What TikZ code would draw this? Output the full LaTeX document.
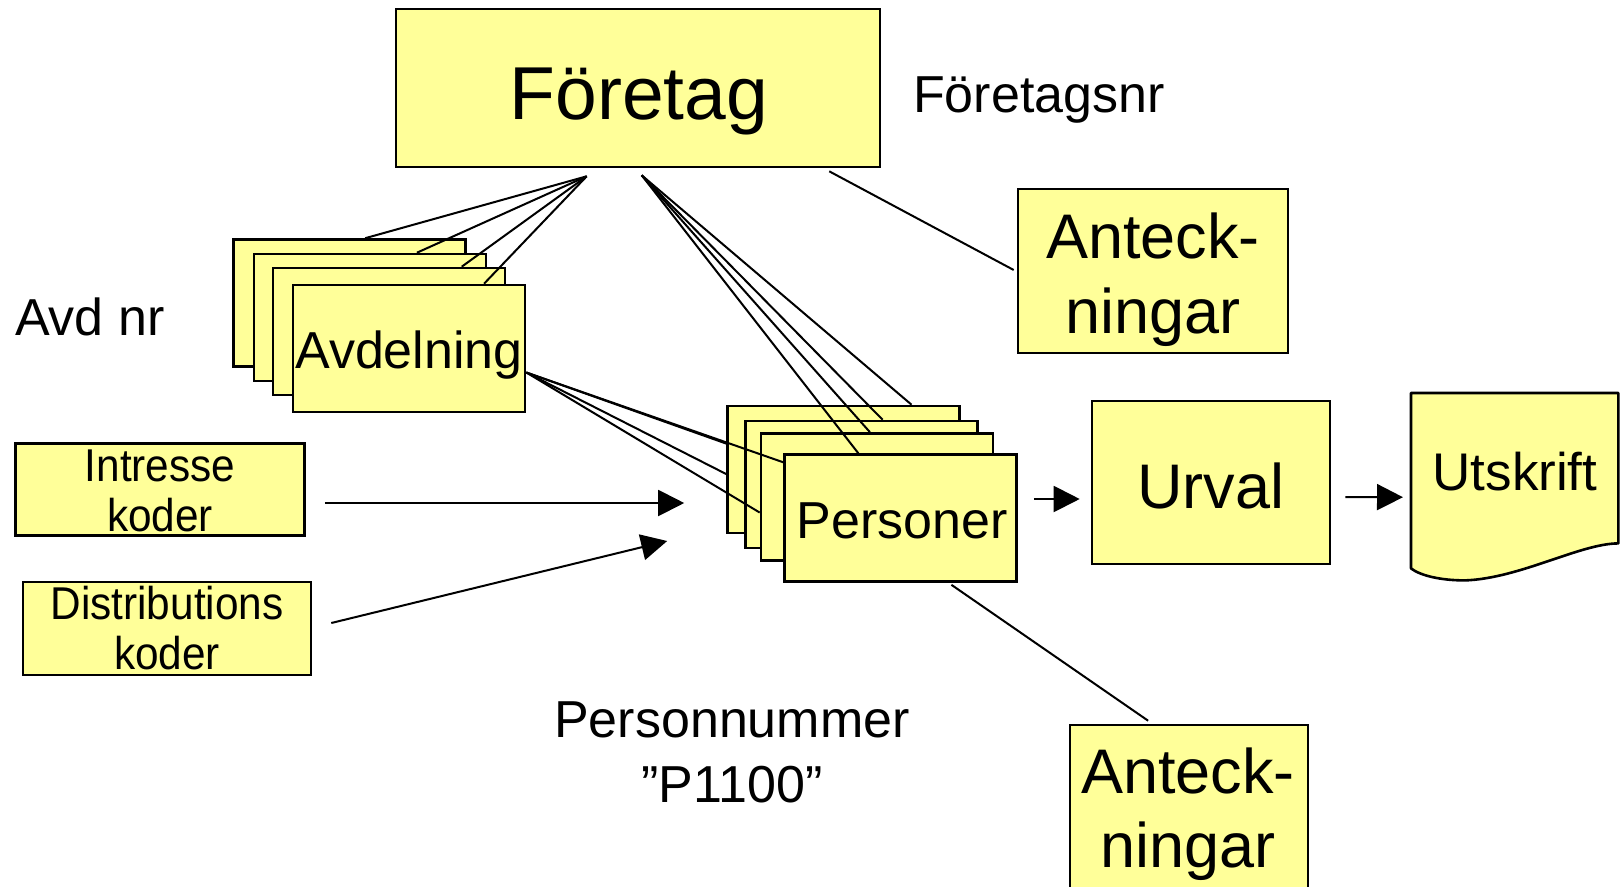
\documentclass[tikz,border=0pt]{standalone}
\usepackage{fontspec}
\setmainfont{Liberation Sans}
\newfontfamily\narrowfont[FakeStretch=0.92]{Liberation Sans}
\usetikzlibrary{calc,arrows.meta}
\definecolor{yel}{HTML}{FFFF99}
\newcommand\myfs[1]{\fontsize{#1}{#1}\selectfont}
\begin{document}
\begin{tikzpicture}[x=1pt,y=-1pt,
 box/.style={draw=black, line width=2.6pt, fill=yel, rectangle, inner sep=0pt},
 card/.style={box, minimum width=232pt, minimum height=127pt},
 link/.style={line width=2pt},
 arr/.style={line width=2pt, -{Triangle[length=26pt,width=26pt]}},
 txt/.style={anchor=base, inner sep=0pt},
 small/.style={txt, font=\narrowfont\myfs{46}},
]
\useasboundingbox (0,0) rectangle (1621,886);

% main boxes
\node[box, minimum width=484pt, minimum height=158pt] (foretag) at (638,88) {};
\node[box, minimum width=270pt, minimum height=164pt] (antA) at (1153,271) {};
\node[box, minimum width=238pt, minimum height=163pt] (urval) at (1211,482.5) {};
\node[box, minimum width=289pt, minimum height=92pt] (intresse) at (160,489.5) {};
\node[box, minimum width=288pt, minimum height=93pt] (distrib) at (167,628.5) {};
\node[box, minimum width=238pt, minimum height=180pt] (antB) at (1189,815) {};

% Avdelning cards
\node[card] (av1) at (349.5,303) {};
\node[card] (av2) at (370,317.5) {};
\node[card] (av3) at (389,331.5) {};
\node[card] (av4) at (409,348.5) {};

% Personer cards
\node[card] (pe1) at (843.5,469.5) {};
\node[card] (pe2) at (861.5,484.5) {};
\node[card] (pe3) at (877,497) {};
\node[card] (pe4) at (900.5,518) {};

% Utskrift document shape
\node[rectangle, inner sep=0pt, minimum width=207pt, minimum height=150pt, anchor=north west] (utskrift) at (1411,393) {};
\draw[line width=2.6pt, fill=yel, line join=round]
  (utskrift.south west) -- (utskrift.north west) -- (utskrift.north east) -- (utskrift.south east)
  .. controls ($(utskrift.south east)+(-38,0)$) and ($(utskrift.south west)+(109,35)$) .. ($(utskrift.south west)+(54,37)$)
  .. controls ($(utskrift.south west)+(29,37)$) and ($(utskrift.south west)+(9,32)$) .. ($(utskrift.south west)+(0,25)$)
  -- cycle;

% fan points
\coordinate (fanA) at ($(foretag.south west)+(192,8)$);
\coordinate (fanB) at ($(foretag.south west)+(247,7)$);
\coordinate (avout) at ($(av4.north east)!0.685!(av4.south east)$);

% Foretag -> Avdelning
\draw[link] (fanA) -- ($(av1.north west)!0.567!(av1.north east)$);
\draw[link] (fanA) -- ($(av2.north west)!0.70!(av2.north east)$);
\draw[link] (fanA) -- ($(av3.north west)!0.81!(av3.north east)$);
\draw[link] (fanA) -- ($(av4.north west)!0.82!(av4.north east)$);

% Foretag -> Personer
\draw[link] (fanB) -- ($(pe1.north west)!0.79!(pe1.north east)$);
\draw[link] (fanB) -- ($(pe2.north west)!0.59!(pe2.north east)$);
\draw[link] (fanB) -- ($(pe3.north west)!0.47!(pe3.north east)$);
\draw[link] (fanB) -- ($(pe4.north west)!0.32!(pe4.north east)$);

% Avdelning -> Personer
\draw[link] (avout) -- ($(pe1.north west)!0.30!(pe1.south west)$);
\draw[link] (avout) -- ($(pe4.north west)!0.07!(pe4.south west)$);
\draw[link] (avout) -- ($(pe1.north west)!0.535!(pe1.south west)$);
\draw[link] (avout) -- ($(pe3.north west)!0.62!(pe3.south west)$);

% Anteckningar links
\draw[link] ($(foretag.south west)!0.893!(foretag.south east)+(0,3)$) -- ($(antA.west)+(-3,-1)$);
\draw[link] ($(pe4.south west)!0.717!(pe4.south east)+(0,2)$) -- ($(antB.north west)!0.33!(antB.north east)+(0,-3)$);

% arrows
\draw[arr] ($(intresse.east)+(19,13.5)$) -- ($(pe1.west)+(-42,33.5)$);
\draw[arr] ($(distrib.east)+(19,-5.5)$) -- ($(pe1.west)+(-59,71.5)$);
\draw[arr] ($(pe4.east)+(16,-19)$) -- ($(urval.west)+(-11,16.5)$);
\draw[arr] ($(urval.east)+(14,14.5)$) -- ($(utskrift.west)+(-8,29)$);

% texts
\node[txt, font=\myfs{75}] (foretag-t) at (639,119) {Företag};
\node[txt, anchor=base west, font=\myfs{52}] (fnr) at (913,112) {Företagsnr};
\node[txt, font=\myfs{63}] (antA-t1) at (1153,258) {Anteck-};
\node[txt, font=\myfs{63}] (antA-t2) at (1153,333) {ningar};
\node[txt, anchor=base west, font=\myfs{52}] (avdnr) at (15,335) {Avd nr};
\node[txt, font=\myfs{52}] (av-t) at (409,368) {Avdelning};
\node[txt, font=\myfs{52}] (pe-t) at (902,538) {Personer};
\node[txt, font=\myfs{63}] (urval-t) at (1211,508) {Urval};
\node[txt, font=\myfs{53}] (utskrift-t) at (1515,490) {Utskrift};
\node[small] (intresse-t1) at (160,481) {Intresse};
\node[small] (intresse-t2) at (160,531) {koder};
\node[small] (distrib-t1) at (167,619) {Distributions};
\node[small] (distrib-t2) at (167,669) {koder};
\node[txt, font=\myfs{52}] (pnr-t1) at (732,737) {Personnummer};
\node[txt, font=\myfs{52}] (pnr-t2) at (732,802) {”P1100”};
\node[txt, font=\myfs{63}] (antB-t1) at (1188,793) {Anteck-};
\node[txt, font=\myfs{63}] (antB-t2) at (1188,867) {ningar};
\end{tikzpicture}
\end{document}
